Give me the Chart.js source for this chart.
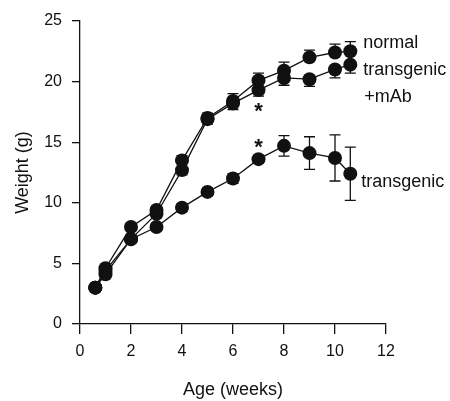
<!DOCTYPE html>
<html>
<head>
<meta charset="utf-8">
<script src="https://cdn.jsdelivr.net/npm/chart.js@4.4.1/dist/chart.umd.min.js"></script>
<style>
    html, body { margin: 0; padding: 0; background: #fff; }
</style>
</head>
<body>
<canvas id="weight-chart" width="450" height="401"></canvas>
<script>
// --- Data ---
const ages = [0.6, 1, 2, 3, 4, 5, 6, 7, 8, 9, 10, 10.6];

const normalWeight = [3.0, 4.6, 8.0, 9.4, 13.5, 17.0, 18.4, 20.1, 20.9, 22.0, 22.4, 22.5];
const normalErr    = [0, 0.2, 0.3, 0.3, 0.4, 0.4, 0.6, 0.6, 0.7, 0.6, 0.7, 0.8];

const mabWeight = [3.0, 4.4, 7.0, 9.1, 12.7, 16.9, 18.2, 19.3, 20.3, 20.2, 21.0, 21.4];
const mabErr    = [0, 0.2, 0.3, 0.3, 0.4, 0.4, 0.5, 0.5, 0.6, 0.6, 0.7, 0.7];

const transgenicWeight = [3.0, 4.1, 7.0, 8.0, 9.6, 10.9, 12.0, 13.6, 14.7, 14.1, 13.7, 12.4];
const transgenicErr    = [0, 0.2, 0.2, 0.3, 0.3, 0.3, 0.4, 0.3, 0.85, 1.35, 1.9, 2.2];

const xTicks = [0, 2, 4, 6, 8, 10, 12];
const yTicks = [0, 5, 10, 15, 20, 25];

const seriesLabels = ['normal', 'transgenic', '+mAb', 'transgenic'];
const starAge = 7;

const ink = '#111';
const fontFamily = '"Liberation Sans", Arial, Helvetica, sans-serif';

const toPoints = (ys) => ages.map((x, i) => ({ x: x, y: ys[i] }));

const makeSeries = (ys, errs, side) => ({
    data: toPoints(ys),
    errors: errs,
    errSide: side,
    borderColor: ink,
    backgroundColor: ink,
    borderWidth: 1.3,
    pointRadius: 7,
    pointBackgroundColor: ink,
    pointBorderColor: ink,
    pointBorderWidth: 0,
    tension: 0,
});

// --- Error bars, drawn under the markers ---
const errorBars = {
    id: 'errorBars',
    beforeDatasetsDraw(chart) {
        const { ctx, scales: { x, y } } = chart;
        ctx.save();
        ctx.strokeStyle = ink;
        ctx.lineWidth = 1.3;
        chart.data.datasets.forEach((ds) => {
            ds.data.forEach((p, i) => {
                const e = ds.errors[i];
                if (!e) return;
                const px = x.getPixelForValue(p.x);
                const top = y.getPixelForValue(p.y + (ds.errSide >= 0 ? e : 0));
                const bot = y.getPixelForValue(p.y - (ds.errSide <= 0 ? e : 0));
                ctx.beginPath();
                ctx.moveTo(px, top);
                ctx.lineTo(px, bot);
                if (ds.errSide >= 0) { ctx.moveTo(px - 5.5, top); ctx.lineTo(px + 5.5, top); }
                if (ds.errSide <= 0) { ctx.moveTo(px - 5.5, bot); ctx.lineTo(px + 5.5, bot); }
                ctx.stroke();
            });
        });
        ctx.restore();
    }
};

// --- Series names and significance stars ---
const annotations = {
    id: 'annotations',
    afterDatasetsDraw(chart) {
        const { ctx, scales: { x, y } } = chart;
        const lastX = x.getPixelForValue(ages[ages.length - 1]);
        ctx.save();
        ctx.fillStyle = ink;
        ctx.textAlign = 'left';
        ctx.textBaseline = 'alphabetic';
        ctx.font = '18px ' + fontFamily;
        ctx.fillText(seriesLabels[0], lastX + 13, y.getPixelForValue(22.8));
        ctx.fillText(seriesLabels[1], lastX + 13, y.getPixelForValue(20.55));
        ctx.fillText(seriesLabels[2], lastX + 14, y.getPixelForValue(18.35));
        ctx.fillText(seriesLabels[3], lastX + 11, y.getPixelForValue(11.33));

        // asterisks under the +mAb point and over the transgenic point at week 7
        const i = ages.indexOf(starAge);
        const sx = x.getPixelForValue(starAge);
        ctx.font = 'bold 22px ' + fontFamily;
        ctx.textAlign = 'center';
        const m = ctx.measureText('*');
        const shift = (m.actualBoundingBoxAscent - m.actualBoundingBoxDescent) / 2;
        ctx.fillText('*', sx, y.getPixelForValue(mabWeight[i]) + 17 + shift);
        ctx.fillText('*', sx, y.getPixelForValue(transgenicWeight[i]) - 16 + shift);
        ctx.restore();
    }
};

const ctx = document.getElementById('weight-chart').getContext('2d');
new Chart(ctx, {
    type: 'line',
    data: {
        datasets: [
            makeSeries(normalWeight, normalErr, 1),
            makeSeries(mabWeight, mabErr, -1),
            makeSeries(transgenicWeight, transgenicErr, 0),
        ]
    },
    options: {
        responsive: false,
        animation: false,
        layout: { padding: { left: 8, right: 64, top: 21, bottom: 0 } },
        plugins: { legend: { display: false }, tooltip: { enabled: false } },
        scales: {
            x: {
                type: 'linear',
                min: xTicks[0],
                max: xTicks[xTicks.length - 1],
                afterBuildTicks: (s) => { s.ticks = xTicks.map((v) => ({ value: v })); },
                afterFit: (s) => { s.height = 77; },
                border: { display: true, color: ink, width: 1.3 },
                grid: { drawOnChartArea: false, color: ink, lineWidth: 1.3, tickLength: 10 },
                ticks: { color: ink, padding: 8, maxRotation: 0, font: { family: fontFamily, size: 16 } },
                title: {
                    display: true, text: 'Age (weeks)', color: ink,
                    padding: { top: 4, bottom: 0 },
                    font: { family: fontFamily, size: 18 }
                }
            },
            y: {
                min: yTicks[0],
                max: yTicks[yTicks.length - 1],
                afterBuildTicks: (s) => { s.ticks = yTicks.map((v) => ({ value: v })); },
                afterFit: (s) => { s.width = 72; },
                border: { display: true, color: ink, width: 1.3 },
                grid: { drawOnChartArea: false, color: ink, lineWidth: 1.3, tickLength: 8 },
                ticks: { color: ink, padding: 10, font: { family: fontFamily, size: 16 } },
                title: {
                    display: true, text: 'Weight (g)', color: ink,
                    padding: { top: 4, bottom: 4 },
                    font: { family: fontFamily, size: 18 }
                }
            }
        }
    },
    plugins: [errorBars, annotations]
});
</script>
</body>
</html>
